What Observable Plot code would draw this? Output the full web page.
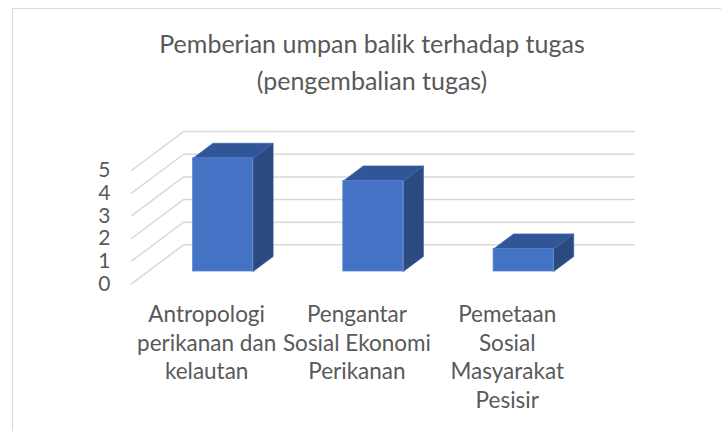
<!DOCTYPE html>
<html>
<head>
<meta charset="utf-8">
<script src="https://cdn.jsdelivr.net/npm/d3@7"></script>
<script src="https://cdn.jsdelivr.net/npm/@observablehq/plot@0.6"></script>
<style>
  html, body { margin: 0; padding: 0; background: #fff; overflow: hidden; }
  #page { position: relative; width: 721px; height: 431px; font-family: Lato, sans-serif; }
  #frame { position: absolute; left: 12px; top: 8px; right: -4px; bottom: -4px; border: 1.5px solid #d9d9d9; }
  #title { position: relative; box-sizing: border-box; height: 100px; width: 744px; padding-top: 25px; text-align: center;
           font-size: 25px; line-height: 37px; color: #595959; font-weight: 400; }
  #chart { position: relative; }
</style>
</head>
<body>
<div id="page">
  <div id="frame"></div>
  <div id="title">Pemberian umpan balik terhadap tugas<br>(pengembalian tugas)</div>
  <div id="chart"></div>
</div>
<script>
const categories = ["Antropologi\nperikanan dan\nkelautan", "Pengantar\nSosial Ekonomi\nPerikanan", "Pemetaan\nSosial\nMasyarakat\nPesisir"];
const values = [5, 4, 1];
const yTicks = [0, 1, 2, 3, 4, 5];

// Oblique 3D projection, expressed in the units of the x and y scales
const depthX = 52 / 150.3;
const depthY = 39 / 22.7;
const barHalf = 0.2, zFront = 0.315, zBack = 0.7;
const px = (u, z) => u + z * depthX;
const py = (v, z) => v + z * depthY;

const grid = yTicks.flatMap(v => [
  {v, x: px(0, 0), y: py(v, 0)},
  {v, x: px(0, 1), y: py(v, 1)},
  {v, x: px(categories.length, 1), y: py(v, 1)}
]);

const bars = values.map((v, i) => ({v, a: i + 0.5 - barHalf, b: i + 0.5 + barHalf}));
const poly = (id, pts) => pts.map(([u, v, z]) => ({id, x: px(u, z), y: py(v, z)}));
const sides = bars.flatMap((d, i) => poly(i, [[d.b, 0, zFront], [d.b, 0, zBack], [d.b, d.v, zBack], [d.b, d.v, zFront]]));
const tops = bars.flatMap((d, i) => poly(i, [[d.a, d.v, zFront], [d.a, d.v, zBack], [d.b, d.v, zBack], [d.b, d.v, zFront]]));
const fronts = bars.map(d => ({x1: px(d.a, zFront), x2: px(d.b, zFront), y1: py(0, zFront), y2: py(d.v, zFront)}));

const chart = Plot.plot({
  width: 721,
  height: 331,
  marginLeft: 131,
  marginRight: 721 - 581.9,
  marginTop: 70,
  marginBottom: 331 - 183.3,
  style: {background: "transparent", overflow: "visible", fontFamily: "Lato, sans-serif"},
  x: {domain: [0, categories.length], label: null},
  y: {domain: [0, 5], label: null},
  marks: [
    Plot.line(grid, {x: "x", y: "y", z: "v", stroke: "#d9d9d9", strokeWidth: 1.5}),
    Plot.line(sides, {x: "x", y: "y", z: "id", curve: "linear-closed", fill: "#2a4a80", stroke: "#3a5f9f", strokeWidth: 0.7}),
    Plot.line(tops, {x: "x", y: "y", z: "id", curve: "linear-closed", fill: "#325597", stroke: "#3f67ad", strokeWidth: 0.7}),
    Plot.rect(fronts, {x1: "x1", x2: "x2", y1: "y1", y2: "y2", fill: "#4472c4", stroke: "#5f88d0", strokeWidth: 0.7}),
    Plot.axisY({ticks: yTicks, tickFormat: d => String(d), tickSize: 0, tickPadding: 21, fontSize: 21, color: "#595959", label: null}),
    Plot.axisX({ticks: [0.5, 1.5, 2.5], tickFormat: d => categories[Math.floor(d)], tickSize: 0, tickPadding: 18,
                fontSize: 22.5, lineHeight: 1.27, color: "#595959", label: null})
  ]
});
document.getElementById("chart").append(chart);
</script>
</body>
</html>
